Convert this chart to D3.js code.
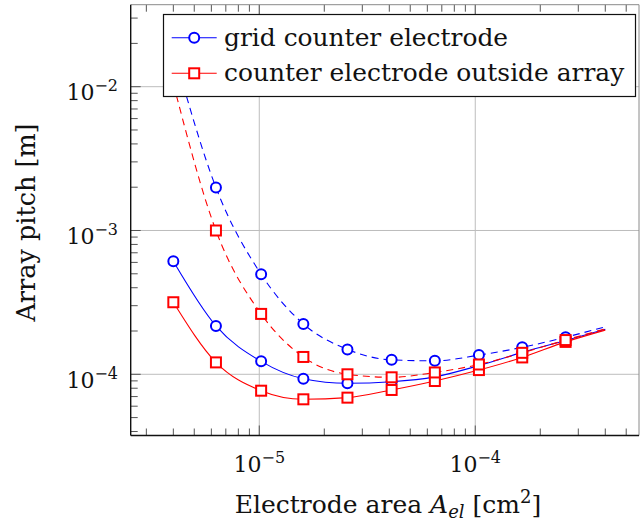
<!DOCTYPE html>
<html>
<head>
<meta charset="utf-8">
<script src="https://cdn.jsdelivr.net/npm/d3@7"></script>
<style>
  html, body { margin: 0; padding: 0; background: #fff; }
  svg { display: block; font-family: "DejaVu Serif", serif; }
</style>
</head>
<body>
<svg id="chart" width="640" height="528"></svg>
<script>
// Electrode areas [cm^2] where the pitch was evaluated
const areas = [4.0e-6, 6.3e-6, 1.02e-5, 1.6e-5, 2.56e-5, 4.1e-5, 6.5e-5, 1.04e-4, 1.65e-4, 2.62e-4];
// The model curves are continued a little beyond the last evaluated area
const tailArea = 4.0e-4;

// Array pitch [m], grid counter electrode
const gridSolid  = [6.11e-4, 2.17e-4, 1.23e-4, 9.32e-5, 8.66e-5, 8.88e-5, 9.6e-5, 1.15e-4, 1.42e-4, 1.72e-4];
const gridSolidTail = 2.06e-4;
const gridDashed = [1.8e-2, 1.99e-3, 4.96e-4, 2.24e-4, 1.49e-4, 1.26e-4, 1.24e-4, 1.36e-4, 1.54e-4, 1.81e-4];
const gridDashedTail = 2.14e-4;

// Array pitch [m], counter electrode outside the array
const outsideSolid  = [3.17e-4, 1.21e-4, 7.69e-5, 6.7e-5, 6.88e-5, 7.78e-5, 8.98e-5, 1.07e-4, 1.31e-4, 1.68e-4];
const outsideSolidTail = 2.03e-4;
const outsideDashed = [1.05e-2, 1.0e-3, 2.63e-4, 1.32e-4, 1.0e-4, 9.53e-5, 1.03e-4, 1.17e-4, 1.41e-4, 1.73e-4];
const outsideDashedTail = 2.07e-4;

const xMajorTicks = [1e-5, 1e-4];
const xTickLabels = ["−5", "−4"];
const yMajorTicks = [1e-2, 1e-3, 1e-4];
const yTickLabels = ["−2", "−3", "−4"];

const legendLabels = ["grid counter electrode", "counter electrode outside array"];

const BLUE = "#0000ff", RED = "#ff0000";

const svg = d3.select("#chart");
const L = 130.7, R = 639, T = 4.7, B = 435.5;

const x = d3.scaleLog().domain([2.539e-6, 5.73e-4]).range([L, R]);
const y = d3.scaleLog().domain([3.753e-5, 3.717e-2]).range([B, T]);

// minor tick positions (2..9 in every decade)
function minorTicks(scale) {
  const [a, b] = scale.domain();
  const out = [];
  for (let e = Math.floor(Math.log10(a)); e <= Math.ceil(Math.log10(b)); e++) {
    for (let m = 2; m <= 9; m++) {
      const v = m * Math.pow(10, e);
      if (v >= a && v <= b) out.push(v);
    }
  }
  return out;
}
const xMinor = minorTicks(x), yMinor = minorTicks(y);

// grid
const grid = svg.append("g").attr("stroke", "#bdbdbd").attr("stroke-width", 1);
grid.selectAll(".gx").data(xMajorTicks).join("line")
  .attr("x1", d => x(d)).attr("x2", d => x(d)).attr("y1", T).attr("y2", B);
grid.selectAll(".gy").data(yMajorTicks).join("line")
  .attr("y1", d => y(d)).attr("y2", d => y(d)).attr("x1", L).attr("x2", R);

// ticks (pointing inward)
const ticks = svg.append("g").attr("stroke", "#555").attr("stroke-width", 1);
ticks.selectAll(".bm").data(xMinor).join("line")
  .attr("x1", d => x(d)).attr("x2", d => x(d)).attr("y1", B).attr("y2", B - 7);
ticks.selectAll(".tm").data(xMinor).join("line")
  .attr("x1", d => x(d)).attr("x2", d => x(d)).attr("y1", T).attr("y2", T + 7);
ticks.selectAll(".bM").data(xMajorTicks).join("line")
  .attr("x1", d => x(d)).attr("x2", d => x(d)).attr("y1", B).attr("y2", B - 10);
ticks.selectAll(".tM").data(xMajorTicks).join("line")
  .attr("x1", d => x(d)).attr("x2", d => x(d)).attr("y1", T).attr("y2", T + 10);
ticks.selectAll(".lm").data(yMinor).join("line")
  .attr("y1", d => y(d)).attr("y2", d => y(d)).attr("x1", L).attr("x2", L + 7);
ticks.selectAll(".lM").data(yMajorTicks).join("line")
  .attr("y1", d => y(d)).attr("y2", d => y(d)).attr("x1", L).attr("x2", L + 10);

// frame
svg.append("line").attr("x1", L).attr("x2", R).attr("y1", T).attr("y2", T).attr("stroke", "#8a8a8a").attr("stroke-width", 1);
svg.append("line").attr("x1", R).attr("x2", R).attr("y1", T).attr("y2", B).attr("stroke", "#8a8a8a").attr("stroke-width", 1);
svg.append("line").attr("x1", L).attr("x2", L).attr("y1", T).attr("y2", B).attr("stroke", "#111").attr("stroke-width", 1.4);
svg.append("line").attr("x1", L).attr("x2", R).attr("y1", B).attr("y2", B).attr("stroke", "#111").attr("stroke-width", 1.4);

// data
svg.append("clipPath").attr("id", "plotclip").append("rect")
  .attr("x", L).attr("y", T).attr("width", R - L).attr("height", B - T);
const plot = svg.append("g").attr("clip-path", "url(#plotclip)");

const line = d3.line().x(d => x(d[0])).y(d => y(d[1])).curve(d3.curveMonotoneX);

const series = [
  { vals: gridSolid,     tail: gridSolidTail,     color: BLUE, dash: null,  mark: "circle" },
  { vals: gridDashed,    tail: gridDashedTail,    color: BLUE, dash: "7,5", mark: "circle" },
  { vals: outsideSolid,  tail: outsideSolidTail,  color: RED,  dash: null,  mark: "square" },
  { vals: outsideDashed, tail: outsideDashedTail, color: RED,  dash: "7,5", mark: "square" }
];

function drawMark(g, kind, color, cx, cy) {
  if (kind === "circle") {
    g.append("circle").attr("cx", cx).attr("cy", cy).attr("r", 5)
      .attr("fill", "#fff").attr("stroke", color).attr("stroke-width", 2);
  } else {
    g.append("rect").attr("x", cx - 5).attr("y", cy - 5).attr("width", 10).attr("height", 10)
      .attr("fill", "#fff").attr("stroke", color).attr("stroke-width", 2);
  }
}

series.forEach(s => {
  const pts = areas.map((a, i) => [a, s.vals[i]]).concat([[tailArea, s.tail]]);
  plot.append("path").attr("d", line(pts)).attr("fill", "none")
    .attr("stroke", s.color).attr("stroke-width", 1.1)
    .attr("stroke-dasharray", s.dash);
  const mg = plot.append("g");
  areas.forEach((a, i) => drawMark(mg, s.mark, s.color, x(a), y(s.vals[i])));
});

// tick labels
const xl = svg.append("g").attr("font-size", 22).attr("fill", "#111").attr("text-anchor", "middle");
xMajorTicks.forEach((v, i) => {
  const t = xl.append("text").attr("x", x(v)).attr("y", 471.7);
  t.append("tspan").text("10");
  t.append("tspan").attr("font-size", 16).attr("dy", -9).text(xTickLabels[i]);
});
const yl = svg.append("g").attr("font-size", 22).attr("fill", "#111").attr("text-anchor", "end");
yMajorTicks.forEach((v, i) => {
  const t = yl.append("text").attr("x", 118).attr("y", y(v) + 13.5);
  t.append("tspan").text("10");
  t.append("tspan").attr("font-size", 16).attr("dy", -9).text(yTickLabels[i]);
});

// axis titles
const xt = svg.append("text").attr("x", 388).attr("y", 513).attr("font-size", 25)
  .attr("text-anchor", "middle").attr("fill", "#111");
xt.append("tspan").text("Electrode area ");
xt.append("tspan").attr("font-style", "italic").text("A");
xt.append("tspan").attr("font-style", "italic").attr("font-size", 18).attr("dy", 5).text("el");
xt.append("tspan").attr("dy", -5).text(" [cm");
xt.append("tspan").attr("font-size", 18).attr("dy", -10).text("2");
xt.append("tspan").attr("dy", 10).text("]");

svg.append("text").attr("transform", "translate(35,222.5) rotate(-90)")
  .attr("font-size", 25.5).attr("text-anchor", "middle").attr("fill", "#111")
  .text("Array pitch [m]");

// legend
const lg = svg.append("g");
lg.append("rect").attr("x", 163.5).attr("y", 14.5).attr("width", 472).attr("height", 82)
  .attr("fill", "#fff").attr("stroke", "#111").attr("stroke-width", 1.2);
const legendRows = [
  { label: legendLabels[0], color: BLUE, mark: "circle", cy: 37.7 },
  { label: legendLabels[1], color: RED,  mark: "square", cy: 73.3 }
];
legendRows.forEach(r => {
  lg.append("line").attr("x1", 171.7).attr("x2", 216.7).attr("y1", r.cy).attr("y2", r.cy)
    .attr("stroke", r.color).attr("stroke-width", 1.1);
  drawMark(lg, r.mark, r.color, 194.2, r.cy);
  lg.append("text").attr("x", 224).attr("y", r.cy + 8).attr("font-size", 24.9)
    .attr("fill", "#111").text(r.label);
});
</script>
</body>
</html>
